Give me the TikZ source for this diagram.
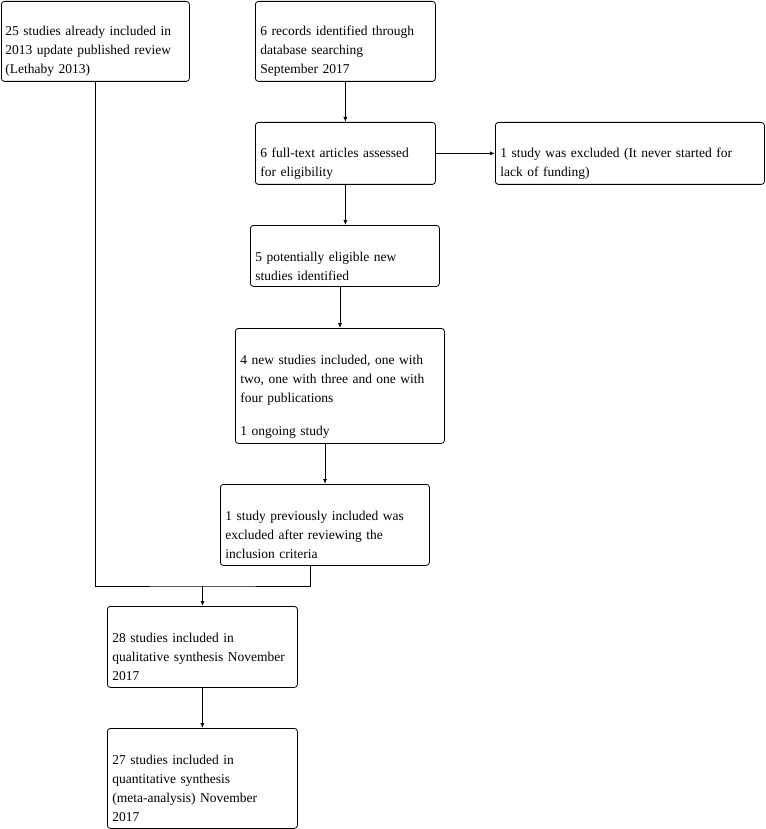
\documentclass[tikz,border=0pt]{standalone}
\usepackage{fontspec}
\setmainfont{Liberation Serif}
\usetikzlibrary{arrows.meta,positioning}
\tikzset{
  keret/.style={draw,rounded corners=3pt,anchor=north west,inner sep=0pt},
  szov/.style={anchor=base west,align=left,inner sep=0pt,text width=#1,
    font=\fontsize{13.5}{19}\selectfont},
  szov/.default=260pt,
  kapcs/.style={-{Latex[length=5pt,width=4pt]}},
}
\begin{document}
\begin{tikzpicture}[x=1pt,y=-1pt,line width=0.8pt]
  \useasboundingbox (0,0) rectangle (765,829);
  % dobozok
  \node[keret,minimum width=188pt,minimum height=80pt] (regi) at (1,1) {};
  \node[keret,minimum width=180pt,minimum height=80pt] (keres) at (255,1) {};
  \node[keret,minimum width=180pt,minimum height=62pt] (teljes) at (255,122) {};
  \node[keret,minimum width=269pt,minimum height=62pt] (kizart) at (495,122) {};
  \node[keret,minimum width=189pt,minimum height=61pt] (lehet) at (250,225) {};
  \node[keret,minimum width=209pt,minimum height=115pt] (uj) at (235,328) {};
  \node[keret,minimum width=209pt,minimum height=81pt] (korabbi) at (220,484) {};
  \node[keret,minimum width=190pt,minimum height=81pt] (kval) at (107,606) {};
  \node[keret,minimum width=190pt,minimum height=100pt] (kvant) at (107,728) {};
  % szovegek
  \node[szov] at (5,36) {25 studies already included in\\2013 update published review\\(Lethaby 2013)};
  \node[szov] at (260,36) {6 records identified through\\database searching\\September 2017};
  \node[szov] at (260,158) {6 full-text articles assessed\\for eligibility};
  \node[szov] at (500,158) {1 study was excluded (It never started for\\lack of funding)};
  \node[szov] at (255,261) {5 potentially eligible new\\studies identified};
  \node[szov] at (240,364) {4 new studies included, one with\\two, one with three and one with\\four publications\\[14pt]1 ongoing study};
  \node[szov] at (225,520) {1 study previously included was\\excluded after reviewing the\\inclusion criteria};
  \node[szov] at (112,642) {28 studies included in\\qualitative synthesis November\\2017};
  \node[szov] at (112,764) {27 studies included in\\quantitative synthesis\\(meta-analysis) November\\2017};
  % nyilak
  \coordinate (regilab) at (95.5,81);
  \coordinate (lehetlab) at (340,286);
  \coordinate (ujlab) at (325,443);
  \coordinate (korabbilab) at (310.5,565);
  \coordinate (ossz) at (202.5,586);
  \draw[kapcs] (keres.south) -- (keres.south |- teljes.north);
  \draw[kapcs] (teljes.east) -- (kizart.west);
  \draw[kapcs] (teljes.south) -- (teljes.south |- lehet.north);
  \draw[kapcs] (lehetlab) -- (lehetlab |- uj.north);
  \draw[kapcs] (ujlab) -- (ujlab |- korabbi.north);
  \draw (regilab) |- (ossz) -| (korabbilab);
  \draw[kapcs] (ossz) -- (ossz |- kval.north);
  \draw[kapcs] (kval.south) -- (kvant.north);
\end{tikzpicture}
\end{document}
